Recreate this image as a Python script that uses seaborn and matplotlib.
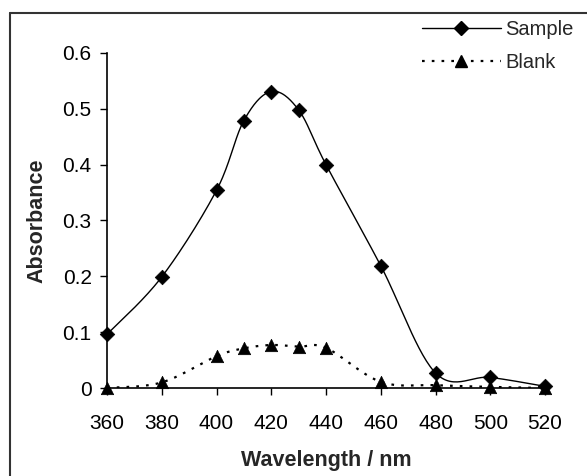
import numpy as np
import pandas as pd
import matplotlib
matplotlib.use("Agg")
import matplotlib.pyplot as plt
import seaborn as sns
from matplotlib.lines import Line2D

wavelength = [360, 380, 400, 410, 420, 430, 440, 460, 480, 500, 520]
sample = [0.096, 0.199, 0.354, 0.479, 0.531, 0.498, 0.400, 0.219, 0.027, 0.019, 0.003]
blank = [0.000, 0.010, 0.057, 0.071, 0.077, 0.074, 0.072, 0.011, 0.005, 0.002, 0.000]
xticks = [360, 380, 400, 420, 440, 460, 480, 500, 520]
yticks = [0, 0.1, 0.2, 0.3, 0.4, 0.5, 0.6]

sns.set_theme(style="ticks")
plt.rcParams["font.family"] = ["Liberation Sans", "DejaVu Sans"]

W, H = 587, 476
fig = plt.figure(figsize=(W / 100, H / 100), dpi=100)
ax = fig.add_axes([107 / W, 1 - 388 / H, (545 - 107) / W, (388 - 53) / H])

XMIN, XMAX, YMIN, YMAX = 360, 520, 0.0, 0.6
PXW, PXH = 438.0, 335.0


def smooth(xs, ys, n=30):
    # Excel-like smoothed line (Catmull-Rom Bezier) computed in pixel space
    px = (np.asarray(xs, float) - XMIN) / (XMAX - XMIN) * PXW
    py = (np.asarray(ys, float) - YMIN) / (YMAX - YMIN) * PXH
    P = np.column_stack([px, py])
    out = []
    m = len(P)
    for i in range(m - 1):
        p0 = P[max(i - 1, 0)]
        p1 = P[i]
        p2 = P[i + 1]
        p3 = P[min(i + 2, m - 1)]
        c1 = p1 + (p2 - p0) / 6.0
        c2 = p2 - (p3 - p1) / 6.0
        t = np.linspace(0, 1, n, endpoint=(i == m - 2))[:, None]
        seg = ((1 - t) ** 3) * p1 + 3 * ((1 - t) ** 2) * t * c1 + 3 * (1 - t) * t ** 2 * c2 + t ** 3 * p2
        out.append(seg)
    S = np.vstack(out)
    sx = S[:, 0] / PXW * (XMAX - XMIN) + XMIN
    sy = S[:, 1] / PXH * (YMAX - YMIN) + YMIN
    return sx, sy


sx, sy = smooth(wavelength, sample)
bx, by = smooth(wavelength, blank)
df_s = pd.DataFrame({"x": sx, "y": sy})
df_b = pd.DataFrame({"x": bx, "y": by})

sns.lineplot(data=df_s, x="x", y="y", ax=ax, sort=False, color="black", lw=1.0, estimator=None)
sns.lineplot(data=df_b, x="x", y="y", ax=ax, sort=False, color="black", lw=1.6,
             estimator=None, linestyle=(0, (1.2, 3.2)))

pts = pd.DataFrame({"x": wavelength, "sample": sample, "blank": blank})
sns.scatterplot(data=pts, x="x", y="sample", ax=ax, marker="D", s=55, color="black",
                edgecolor="black", linewidth=0.5, zorder=5, clip_on=False)
sns.scatterplot(data=pts, x="x", y="blank", ax=ax, marker="^", s=80, color="black",
                edgecolor="black", linewidth=0.5, zorder=5, clip_on=False)

ax.set_xlim(XMIN, XMAX)
ax.set_ylim(YMIN, YMAX)
ax.set_xticks(xticks)
ax.set_yticks(yticks)
ax.set_xticklabels([str(v) for v in xticks])
ax.set_yticklabels(["0" if v == 0 else f"{v:g}" for v in yticks])
ax.tick_params(axis="both", direction="out", length=5, width=1, color="black",
               labelsize=15, labelcolor="black")
ax.tick_params(axis="x", pad=14)
ax.tick_params(axis="y", pad=6)
sns.despine(ax=ax, top=True, right=True)
for s in ["left", "bottom"]:
    ax.spines[s].set_color("black")
    ax.spines[s].set_linewidth(1.2)

ax.set_xlabel("Wavelength / nm", fontsize=15.5, fontweight="bold", labelpad=12)
ax.set_ylabel("Absorbance", fontsize=15.5, fontweight="bold", labelpad=11)

handles = [
    Line2D([], [], color="black", lw=1.0, marker="D", markersize=7),
    Line2D([], [], color="black", lw=1.6, linestyle=(0, (1.2, 3.2)), marker="^", markersize=9),
]
fig.legend(handles, ["Sample", "Blank"], loc="upper left",
           bbox_to_anchor=(422 / W, 1 - 20 / H), frameon=False, fontsize=14.5,
           handlelength=3.9, handletextpad=0.25, labelspacing=0.7,
           borderpad=0, borderaxespad=0)

# outer frame (left and top edges)
fig.add_artist(Line2D([10 / W, 10 / W], [0, 1 - 13 / H], transform=fig.transFigure,
                      color="#333333", lw=1.5))
fig.add_artist(Line2D([10 / W, 1], [1 - 13 / H, 1 - 13 / H], transform=fig.transFigure,
                      color="#333333", lw=1.5))

fig.savefig("out.png", dpi=100)
